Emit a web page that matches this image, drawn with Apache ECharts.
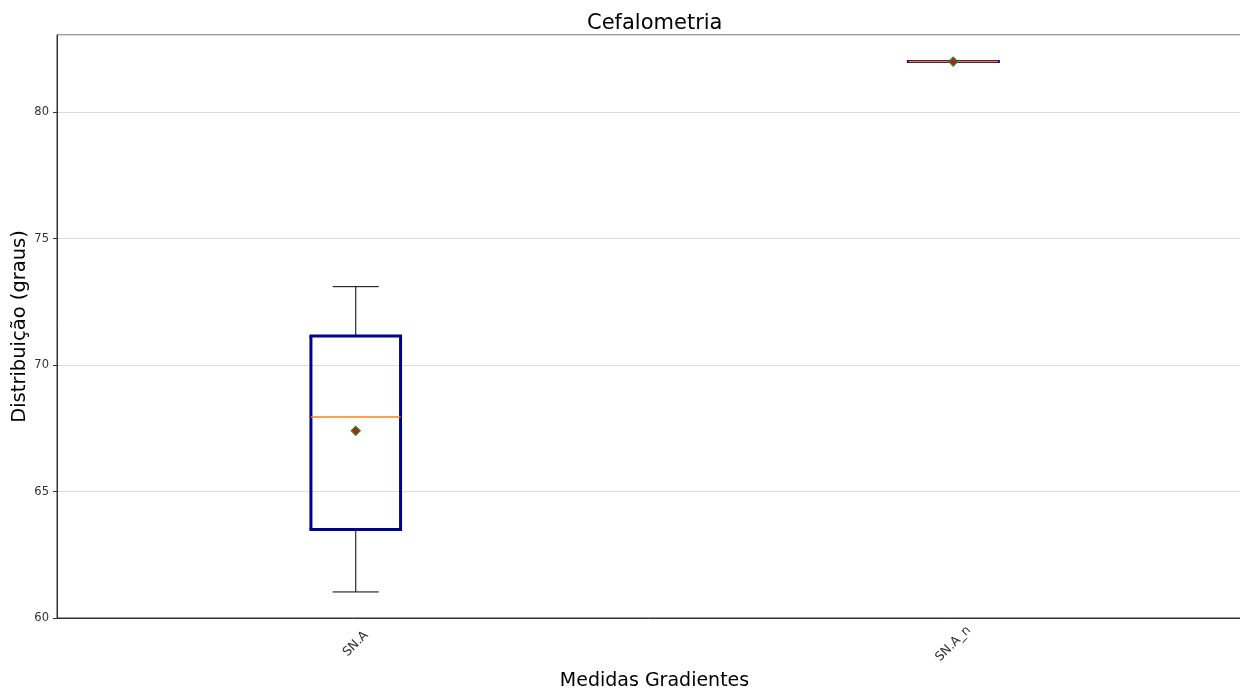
<!DOCTYPE html>
<html><head><meta charset="utf-8">
<script src="https://cdn.jsdelivr.net/npm/echarts@6/dist/echarts.min.js"></script>
<style>html,body{margin:0;padding:0;background:#fff}#c{width:1240px;height:690px}</style>
</head><body><div id="c"></div>
<script>
var categories = ['SN.A', 'SN.A_n'];
var whiskerLow = [61.03, 82.0];
var q1 = [63.5, 82.0];
var median = [67.95, 82.0];
var q3 = [71.15, 82.0];
var whiskerHigh = [73.1, 82.0];
var means = [67.4, 82.0];
var yTicks = [60, 65, 70, 75, 80];

var boxData = categories.map(function (c, i) {
  return [i, whiskerLow[i], q1[i], median[i], q3[i], whiskerHigh[i]];
});
var meanData = categories.map(function (c, i) { return [i, means[i]]; });

var chart = echarts.init(document.getElementById('c'), null, {renderer: 'canvas'});
var font = 'DejaVu Sans';
chart.setOption({
  animation: false,
  backgroundColor: '#fff',
  title: {
    text: 'Cefalometria', left: 582, top: 8,
    textStyle: {fontFamily: font, fontSize: 21, fontWeight: 'normal', color: '#000'}
  },
  grid: {left: 57, width: 1195, top: 35, bottom: 72, outerBoundsMode: 'none', containLabel: false,
    show: true, borderColor: '#333', borderWidth: 1, backgroundColor: 'transparent'},
  xAxis: {
    type: 'category', data: categories, boundaryGap: true,
    name: 'Medidas Gradientes', nameLocation: 'middle', nameGap: 54,
    nameTextStyle: {fontFamily: font, fontSize: 19, color: '#000'},
    axisLine: {lineStyle: {color: '#333', width: 1}},
    axisTick: {alignWithLabel: true, length: 4, lineStyle: {color: '#333'}},
    axisLabel: {rotate: 45, align: 'center', verticalAlign: 'middle', margin: 26, fontFamily: font, fontSize: 12.5, color: '#333'},
    splitLine: {show: false}
  },
  yAxis: {
    type: 'value', min: 60, max: 83.05, interval: 5,
    name: 'Distribuição (graus)', nameLocation: 'middle', nameGap: 27, nameRotate: 90, nameMoveOverlap: false,
    nameTextStyle: {fontFamily: font, fontSize: 19.5, color: '#000'},
    axisLine: {show: true, lineStyle: {color: '#333', width: 1}},
    axisTick: {show: true, length: 4, lineStyle: {color: '#333'}},
    axisLabel: {margin: 8, fontFamily: font, fontSize: 11.5, color: '#333', showMaxLabel: false,
      formatter: function (v) { return yTicks.indexOf(v) >= 0 ? String(v) : ''; }},
    splitLine: {show: true, lineStyle: {color: '#dcdcdc', width: 1}}
  },
  series: [{
    type: 'custom',
    encode: {x: 0, y: [1, 2, 3, 4, 5]},
    data: boxData,
    renderItem: function (params, api) {
      var x = api.value(0);
      var band = api.size([1, 0])[0];
      var hw = band * 0.075, cw = band * 0.0385;
      var pLow = api.coord([x, api.value(1)]);
      var pQ1 = api.coord([x, api.value(2)]);
      var pMed = api.coord([x, api.value(3)]);
      var pQ3 = api.coord([x, api.value(4)]);
      var pHigh = api.coord([x, api.value(5)]);
      var cx = pQ1[0];
      var black = {stroke: '#000', lineWidth: 1};
      var boxStyle = {fill: 'none', stroke: '#00008B', lineWidth: 3, lineJoin: 'miter'};
      return {type: 'group', children: [
        {type: 'line', shape: {x1: cx, y1: pQ1[1], x2: cx, y2: pLow[1]}, style: black},
        {type: 'line', shape: {x1: cx, y1: pQ3[1], x2: cx, y2: pHigh[1]}, style: black},
        {type: 'line', shape: {x1: cx - cw, y1: pLow[1], x2: cx + cw, y2: pLow[1]}, style: black},
        {type: 'line', shape: {x1: cx - cw, y1: pHigh[1], x2: cx + cw, y2: pHigh[1]}, style: black},
        {type: 'line', shape: {x1: cx - hw - 1.5, y1: pQ3[1], x2: cx + hw + 1.5, y2: pQ3[1]}, style: boxStyle},
        {type: 'line', shape: {x1: cx - hw - 1.5, y1: pQ1[1], x2: cx + hw + 1.5, y2: pQ1[1]}, style: boxStyle},
        {type: 'line', shape: {x1: cx - hw, y1: pQ3[1], x2: cx - hw, y2: pQ1[1]}, style: boxStyle},
        {type: 'line', shape: {x1: cx + hw, y1: pQ3[1], x2: cx + hw, y2: pQ1[1]}, style: boxStyle},
        {type: 'line', shape: {x1: cx - hw, y1: pMed[1], x2: cx + hw, y2: pMed[1]},
          style: {stroke: '#ff7f0e', lineWidth: 1.5}}
      ]};
    },
    z: 2
  }, {
    type: 'scatter',
    data: meanData,
    symbol: 'diamond', symbolSize: [9, 9],
    itemStyle: {color: '#B22222', borderColor: '#228B22', borderWidth: 1.2, opacity: 1},
    z: 3
  }]
});
</script></body></html>
